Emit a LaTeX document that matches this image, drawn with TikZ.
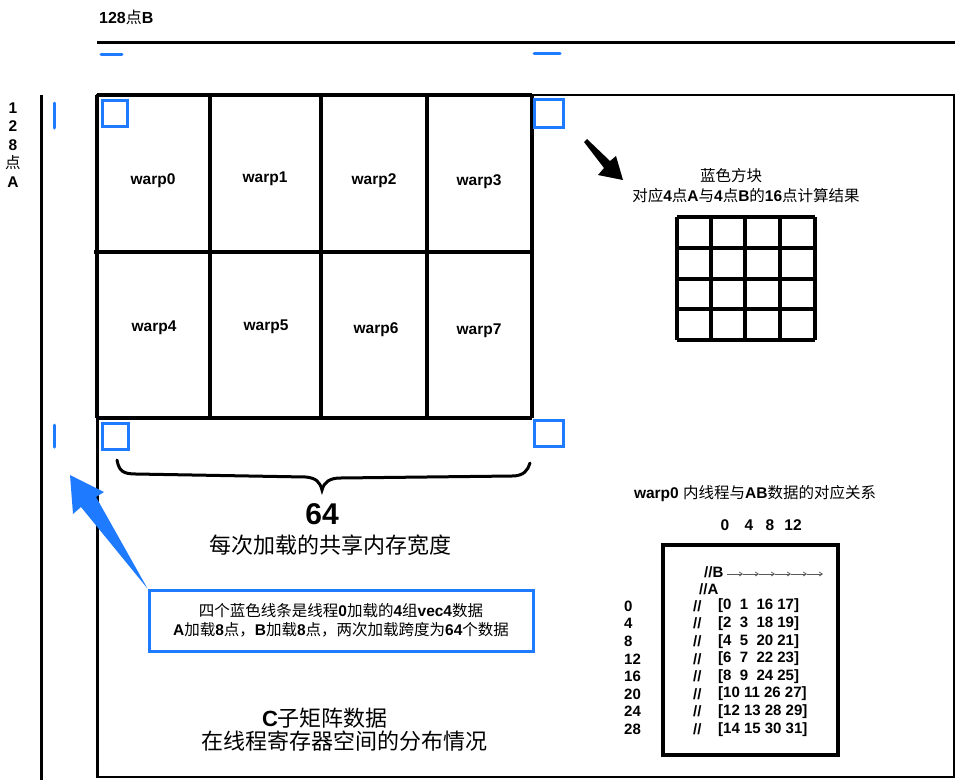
\documentclass[tikz,border=0pt]{standalone}
\usepackage{fontspec}
\setmainfont{Liberation Sans}
\newfontfamily\cjk{Noto Sans CJK SC}
\newcommand\zh[1]{{\cjk\mdseries #1}}
\usetikzlibrary{arrows.meta}
\definecolor{myblue}{RGB}{30,122,255}
\begin{document}
\begin{tikzpicture}[x=1pt,y=-1pt,
  lbl/.style={font=\fontsize{15.5}{17}\selectfont\bfseries, inner sep=0pt},
  tbl/.style={font=\fontsize{15}{17}\selectfont\bfseries, inner sep=0pt, anchor=west},
  zhs/.style={font=\fontsize{15.5}{18}\selectfont\cjk, inner sep=0pt, align=center},
  zhl/.style={font=\fontsize{22}{26}\selectfont\cjk, inner sep=0pt, align=center},
  heavy/.style={line width=3.5pt},
  frame/.style={line width=2.5pt},
  bluebox/.style={draw=myblue, line width=3pt},
  bluedash/.style={draw=myblue, line width=3pt, line cap=round}]
\useasboundingbox (0,0) rectangle (960,780);
\fill[white] (0,0) rectangle (960,780);

% axis labels and lines
\node[lbl, anchor=west, font=\fontsize{16}{18}\selectfont\bfseries] (labB) at (99,17) {128\zh{点}B};
\draw[line width=3pt] (97,42) -- (955,42);
\draw[line width=3pt] (41,95) -- (41,780);
\node[lbl, align=center, font=\fontsize{15.5}{18.5}\selectfont\bfseries] (labA) at (13,145) {1\\2\\8\\\zh{点}\\A};

% blue load strips
\draw[bluedash] (101,54) -- (122,54);
\draw[bluedash] (534,53) -- (560,53);
\draw[bluedash] (54,103) -- (54,128);
\draw[bluedash] (54,425) -- (54,447);

% outer C block
\draw[frame] (97,95) rectangle (954,777);
\draw[line width=3pt] (97,95) -- (97,777);

% warp grid
\foreach \x in {97,210,321,427,532} \draw[heavy] (\x,95) -- (\x,418);
\draw[heavy] (97,95) -- (532,95);
\draw[heavy] (94,252) -- (534,252);
\draw[heavy] (97,418) -- (532,418);

\node[lbl] (w0) at (153,181) {warp0};
\node[lbl] (w1) at (265,179) {warp1};
\node[lbl] (w2) at (374,181) {warp2};
\node[lbl] (w3) at (479,182) {warp3};
\node[lbl] (w4) at (154,328) {warp4};
\node[lbl] (w5) at (266,327) {warp5};
\node[lbl] (w6) at (376,330) {warp6};
\node[lbl] (w7) at (479,331) {warp7};

% blue squares
\draw[bluebox] (102,100) rectangle (127,126);
\draw[bluebox] (534,99) rectangle (563,127);
\draw[bluebox] (102,423) rectangle (128,449);
\draw[bluebox] (534,420) rectangle (563,446);

% brace
\draw[line width=3pt, line cap=round]
  (117,460) .. controls (119,471) and (123,474) .. (136,474)
  -- (306,477) .. controls (316,478) and (320,482) .. (322,490)
  .. controls (324,482) and (330,478) .. (340,478)
  -- (512,476) .. controls (524,476) and (528,470) .. (530,463);
\node[font=\fontsize{30}{32}\selectfont\bfseries, inner sep=0pt] (n64) at (322,514) {64};
\node[zhl] (width) at (330,545) {每次加载的共享内存宽度};

% blue note box and arrow
\node[draw=myblue, line width=3pt, minimum width=384pt, minimum height=61pt, inner sep=0pt,
      font=\fontsize{15.5}{19}\selectfont\bfseries, align=center] (note) at (341,620.5)
  {\zh{四个蓝色线条是线程}0\zh{加载的}4\zh{组}vec4\zh{数据}\\
   A\zh{加载}8\zh{点，}B\zh{加载}8\zh{点，两次加载跨度为}64\zh{个数据}};
\coordinate (btip) at (70,475);
\fill[myblue] (btip) -- (104,492) -- (96,497) -- (note.north west) -- (81,507) -- (73,514) -- cycle;

% C label
\node[zhl, font=\fontsize{22}{26}\selectfont\bfseries] (ctitle) at (325,718) {C\zh{子矩阵数据}};
\node[zhl] (csub) at (344,741) {在线程寄存器空间的分布情况};

% black arrow and legend
\coordinate (ktip) at (623,180);
\fill[black] (584,142) -- (587,139) -- (610,161) -- (616,156) -- (ktip) -- (598,175) -- (604,168) -- cycle;
\node[zhs] (leg1) at (731,176) {蓝色方块};
\node[zhs, font=\fontsize{15.5}{18}\selectfont\bfseries] (leg2) at (746,196)
  {\zh{对应}4\zh{点}A\zh{与}4\zh{点}B\zh{的}16\zh{点计算结果}};
\foreach \x in {677,711,745,780,815} \draw[heavy] (\x,217) -- (\x,340);
\foreach \y in {217,248,279,309,340} \draw[heavy] (677,\y) -- (815,\y);

% warp0 mapping table
\node[lbl] (mtitle) at (755,494) {warp0 \zh{内线程与}AB\zh{数据的对应关系}};
\node[lbl] (h0) at (725,525) {0};
\node[lbl] (h4) at (749,525) {4};
\node[lbl] (h8) at (770,525) {8};
\node[lbl] (h12) at (793,525) {12};
\draw[line width=4pt] (663,545) rectangle (838,755);
\node[tbl] (cb) at (704,572) {//B};
\foreach \i in {0,...,5}
  \draw[gray!70!black, line width=0.8pt, -{Straight Barb[length=3pt,width=4pt]}]
    (727+16*\i,574) -- (743+16*\i,574);
\node[tbl] (ca) at (699,589) {//A};
\foreach \r/\lab/\row [count=\k from 0] in {
   0/0/{[0\ \ 1\ \ 16 17]},
   1/4/{[2\ \ 3\ \ 18 19]},
   2/8/{[4\ \ 5\ \ 20 21]},
   3/12/{[6\ \ 7\ \ 22 23]},
   4/16/{[8\ \ 9\ \ 24 25]},
   5/20/{[10 11 26 27]},
   6/24/{[12 13 28 29]},
   7/28/{[14 15 30 31]}} {
  \node[tbl] (rl\k) at (624,606+17.6*\r) {\lab};
  \node[tbl] (rs\k) at (693,606+17.6*\r) {//};
  \node[tbl] (rv\k) at (718,606+17.6*\r) {\row};
}
\end{tikzpicture}
\end{document}
